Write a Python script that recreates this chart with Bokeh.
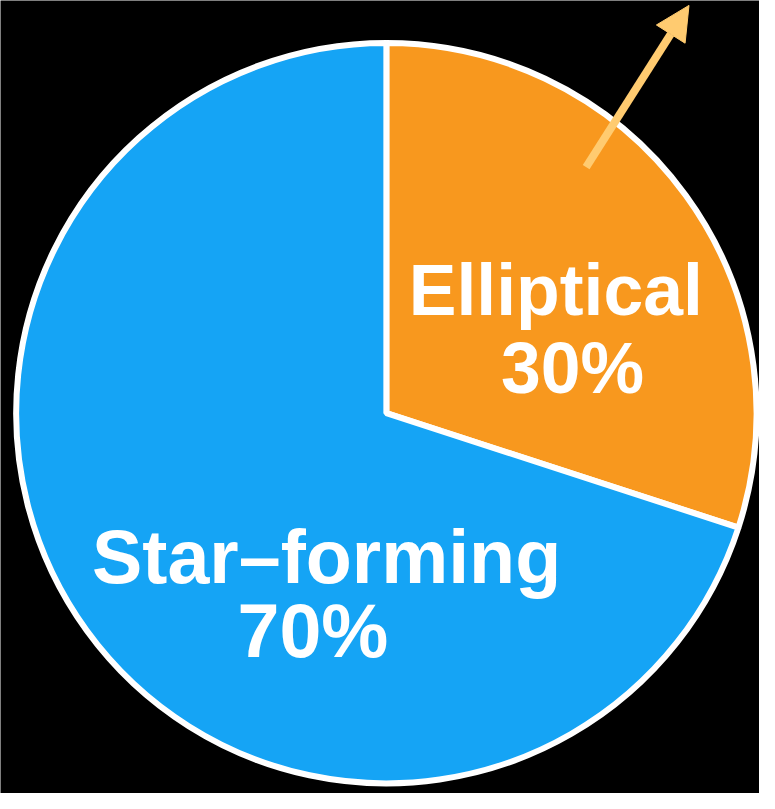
import math
from bokeh.plotting import figure
from bokeh.models import Range1d, Arrow, NormalHead, ColumnDataSource
from bokeh.core.properties import value
from bokeh.embed import file_html
from bokeh.resources import INLINE

# ---- data ----
categories = ["Elliptical", "Star\u2013forming"]
shares = [30, 70]
colors = ["#F8981E", "#15A4F5"]

# ---- layout (reference pixel coordinates, y measured downward) ----
W, H = 759, 793
REF_W, REF_H = 775, 809
S = W / REF_W  # pixel scale
cx, cy, r = 394, 421, 378

p = figure(width=W, height=H, output_backend="svg", toolbar_location=None,
           x_range=Range1d(0, REF_W), y_range=Range1d(-REF_H, 0),
           min_border=0)
p.axis.visible = False
p.grid.visible = False
p.outline_line_color = None
p.background_fill_color = "black"
p.border_fill_color = "black"

# slices clockwise from 12 o'clock
total = float(sum(shares))
starts, ends = [], []
acc = 0.0
for s in shares:
    a_end = math.pi / 2 - 2 * math.pi * acc / total
    a_start = math.pi / 2 - 2 * math.pi * (acc + s) / total
    starts.append(a_start)
    ends.append(a_end)
    acc += s

src = ColumnDataSource(dict(x=[cx] * len(shares), y=[-cy] * len(shares),
                            start=starts, end=ends, color=colors, cat=categories))
p.wedge(x="x", y="y", radius=r, radius_units="data", start_angle="start",
        end_angle="end", fill_color="color", line_color="white", line_width=6,
        source=src)

# labels
label_specs = [
    (categories[0], 567, 295, 73),
    (f"{shares[0]}%", 584, 375, 73),
    (categories[1], 333, 568, 77),
    (f"{shares[1]}%", 319, 643, 77),
]
for txt, x, y, fs in label_specs:
    p.text(x=[x], y=[-y], text=[txt], text_align="center",
           text_baseline="alphabetic", text_color="white",
           text_font=value("Liberation Sans"), text_font_style="bold",
           text_font_size=f"{fs * S:.1f}px")

# arrow
p.add_layout(Arrow(x_start=598, y_start=-170, x_end=703, y_end=-5,
                   line_color="#FFCB70", line_width=8,
                   end=NormalHead(size=34, fill_color="#FFCB70",
                                  line_color="#FFCB70", line_width=1)))

open("out.html", "w").write(file_html(p, INLINE))
